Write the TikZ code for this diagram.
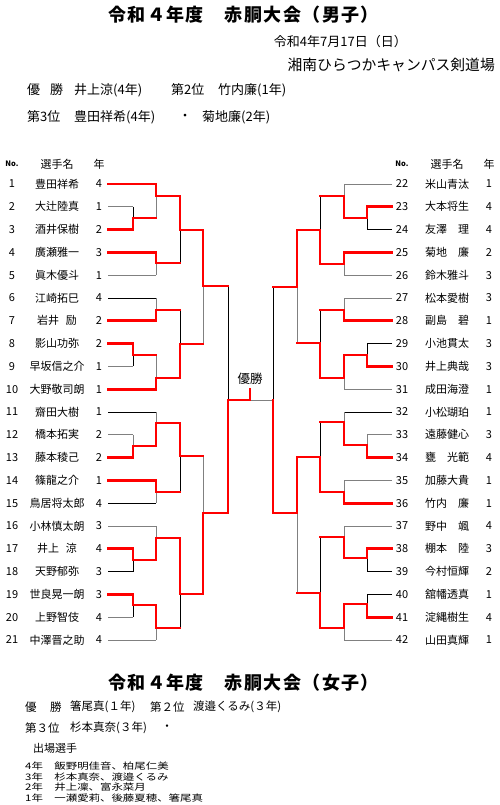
\documentclass[tikz,border=0pt]{standalone}
\usepackage{fontspec}
\usepackage{graphicx}
\setmainfont{Noto Sans CJK JP}
\newfontfamily\tfont{Noto Sans CJK JP}[LetterSpace=8]
\tikzset{
  win/.style={draw=red, line width=2.8pt, line cap=rect},
  thn/.style={line width=0.9pt},
  ttl/.style={font=\tfont\bfseries\fontsize{18}{18}\selectfont, anchor=west, inner sep=0pt},
  sm/.style={font=\fontsize{13}{13}\selectfont, anchor=west, inner sep=0pt},
  fm/.style={font=\fontsize{11.5}{11.5}\selectfont, anchor=west, inner sep=0pt},
  cell/.style={font=\fontsize{11}{11}\selectfont, inner sep=0pt},
  hdr/.style={font=\fontsize{11}{11}\selectfont, inner sep=0pt},
  nohdr/.style={font=\bfseries\fontsize{7.5}{7.5}\selectfont, inner sep=0pt},
  lst/.style={font=\fontsize{9}{9}\selectfont, anchor=west, inner sep=0pt}
}
\begin{document}
\begin{tikzpicture}[x=1pt,y=-1pt]
\fill[white] (0,0) rectangle (500,805);
\useasboundingbox (0,0) rectangle (500,805);

% ---------- header (men) ----------
\node[ttl] (title1) at (108,15) {令和４年度　赤胴大会（男子）};
\node[font=\fontsize{13}{13}\selectfont, anchor=east, inner sep=0pt] (date) at (407,42) {令和4年7月17日（日）};
\node[font=\fontsize{14.8}{15}\selectfont, anchor=east, inner sep=0pt] (venue) at (495,65) {湘南ひらつかキャンパス剣道場};
\node[sm] (r1a) at (27,90) {優};
\node[sm] (r1b) at (50,90) {勝};
\node[sm] (r1c) at (74,90) {井上涼(4年)};
\node[sm] (r1d) at (171,90) {第2位};
\node[sm] (r1e) at (218,90) {竹内廉(1年)};
\node[sm] (r2a) at (27,117) {第3位};
\node[sm] (r2b) at (74,117) {豊田祥希(4年)};
\node[sm, anchor=center] (r2c) at (185,117) {・};
\node[sm] (r2d) at (202,117) {菊地廉(2年)};

% column headers
\node[nohdr] (hlno) at (12,164) {No.};
\node[hdr] (hlnm) at (57,164) {選手名};
\node[hdr] (hlgr) at (99,164) {年};
\node[nohdr] (hrno) at (402,164) {No.};
\node[hdr] (hrnm) at (447,164) {選手名};
\node[hdr] (hrgr) at (489,164) {年};

% ---------- players ----------
\foreach \nm/\g [count=\n] in {豊田祥希/4, 大辻陸真/1, 酒井保樹/2, 廣瀬雅一/3, 眞木優斗/1, 江崎拓巳/4, 岩井\hspace{.6em}励/2, 影山功弥/2, 早坂信之介/1, 大野敬司朗/1, 齋田大樹/1, 橋本拓実/2, 藤本稜己/2, 篠龍之介/1, 鳥居将太郎/4, 小林慎太朗/3, 井上\hspace{.6em}涼/4, 天野郁弥/3, 世良晃一朗/3, 上野智伎/4, 中澤晋之助/4}{
  \node[cell] (lno\n) at (12,{184+(\n-1)*22.8}) {\n};
  \node[cell] (lnm\n) at (57,{184+(\n-1)*22.8}) {\nm};
  \node[cell] (lgr\n) at (99,{184+(\n-1)*22.8}) {\g};
}
\foreach \nm/\g [count=\n] in {米山青汰/1, 大本将生/4, 友澤　理/4, 菊地　廉/2, 鈴木雅斗/3, 松本愛樹/3, 副島　碧/1, 小池貫太/3, 井上典哉/3, 成田海澄/1, 小松瑚珀/1, 遠藤健心/3, 甕　光範/4, 加藤大貴/1, 竹内　廉/1, 野中　颯/4, 棚本　陸/3, 今村恒輝/2, 舘幡透真/1, 淀縄樹生/4, 山田真輝/1}{
  \pgfmathtruncatemacro\m{\n+21}
  \node[cell] (rno\m) at (402,{184+(\n-1)*22.8}) {\m};
  \node[cell] (rnm\m) at (447,{184+(\n-1)*22.8}) {\nm};
  \node[cell] (rgr\m) at (489,{184+(\n-1)*22.8}) {\g};
}

% ---------- bracket: thin lines ----------
\foreach \xe/\yy/\c in {133/206.8/gray, 156/275.2/gray, 156/298/black, 133/366.4/gray, 156/412/black, 133/434.8/gray, 156/503.2/black, 156/526/gray, 133/571.6/black, 133/617.2/gray, 156/640/gray}
  \draw[thn,draw=\c] (108,\yy) -- (\xe,\yy);
\foreach \xe/\yy/\c in {344/184/gray, 367/229.6/black, 344/275.2/gray, 344/298/gray, 367/343.6/black, 344/389.2/gray, 344/412/black, 367/434.8/gray, 344/480.4/gray, 344/526/gray, 367/571.6/black, 367/594.4/black, 344/640/gray}
  \draw[thn,draw=\c] (392,\yy) -- (\xe,\yy);
\foreach \xx/\ya/\yb/\c in {133/206.8/229.6/black, 156/184/218/gray, 156/252.4/275.2/gray, 180/196/263/black, 156/298/320.8/gray, 133/343.6/366.4/black, 156/355/389.2/gray, 180/310/378/black, 203/230/344/gray, 156/412/446/gray, 133/434.8/457.6/gray, 156/480.4/503.2/gray, 180/423/492/black, 133/548.8/571.6/black, 156/526/560/gray, 133/594.4/617.2/black, 156/605/640/gray, 180/538/628/black, 203/456/594/gray, 228/286/513/black,
  367/206.8/229.6/black, 344/184/218/gray, 344/252.4/275.2/gray, 320/196/264/black, 344/298/320.8/gray, 367/343.6/366.4/black, 344/355/389.2/gray, 320/310/378/black, 297/230/343/gray, 344/412/445/gray, 367/434.8/457.6/gray, 344/480.4/503.2/gray, 320/422/492/black, 367/548.8/571.6/black, 344/526/558/gray, 367/594.4/617.2/black, 344/604/640/gray, 320/537/628/black, 297/457/593/gray, 273/287/513/black}
  \draw[thn,draw=\c] (\xx,\ya) -- (\xx,\yb);
\draw[thn,draw=gray] (250,400) -- (273,400);

% ---------- bracket: winners (red) ----------
\foreach \xe/\yy in {156/184, 133/229.6, 156/252.4, 156/320.8, 133/343.6, 156/389.2, 133/457.6, 156/480.4, 133/548.8, 133/594.4}
  \draw[win] (108,\yy) -- (\xe,\yy);
\foreach \xe/\yy in {367/206.8, 344/252.4, 344/320.8, 367/366.4, 367/457.6, 344/503.2, 367/548.8, 367/617.2}
  \draw[win] (392,\yy) -- (\xe,\yy);
\foreach \xx/\yw/\yo/\xn in {133/229.6/218/156, 156/184/196/180, 156/252.4/263/180, 180/196/230/203, 156/320.8/310/180, 133/343.6/355/156, 156/389.2/378/180, 180/378/344/203, 203/230/286/228, 156/446/423/180, 133/457.6/446/156, 156/480.4/492/180, 180/423/456/203, 133/548.8/560/156, 156/560/538/180, 133/594.4/605/156, 156/605/628/180, 180/538/594/203, 203/594/513/228,
  367/206.8/218/344, 344/218/196/320, 344/252.4/264/320, 320/264/230/297, 344/320.8/310/320, 367/366.4/355/344, 344/355/378/320, 320/378/343/297, 297/230/287/273, 344/445/422/320, 367/457.6/445/344, 344/503.2/492/320, 320/492/457/297, 367/548.8/558/344, 344/558/537/320, 367/617.2/604/344, 344/604/628/320, 320/628/593/297, 297/457/513/273}
  \draw[win] (\xx,\yw) -- (\xx,\yo) -- (\xn,\yo);
\draw[win] (228,513) -- (228,400) -- (250,400) -- (250,389);
\draw[win] (273,513) -- (273,400);
\node[font=\fontsize{12.5}{12.5}\selectfont, inner sep=0pt] (champ) at (250,379) {優勝};

% ---------- women ----------
\node[ttl] (title2) at (108,683) {令和４年度　赤胴大会（女子）};
\node[fm] (w1a) at (25,707) {優};
\node[fm] (w1b) at (50,707) {勝};
\node[fm] (w1c) at (70,707) {箸尾真(１年)};
\node[fm] (w1d) at (150,707) {第２位};
\node[fm] (w1e) at (193,707) {渡邉くるみ(３年)};
\node[fm] (w2a) at (25,728) {第３位};
\node[fm] (w2b) at (70,728) {杉本真奈(３年)};
\node[fm, anchor=center] (w2c) at (167,728) {・};
\node[font=\fontsize{11}{11}\selectfont, anchor=west, inner sep=0pt] (w3) at (33,748) {出場選手};
\node[lst] (l4) at (25,766) {\scalebox{1.27}[1]{4年　飯野明佳音、柏尾仁美}};
\node[lst] (l3) at (25,776.7) {\scalebox{1.27}[1]{3年　杉本真奈、渡邉くるみ}};
\node[lst] (l2) at (25,787.3) {\scalebox{1.27}[1]{2年　井上凜、富永菜月}};
\node[lst] (l1) at (25,798) {\scalebox{1.27}[1]{1年　一瀬愛莉、後藤夏穂、箸尾真}};
\end{tikzpicture}
\end{document}
